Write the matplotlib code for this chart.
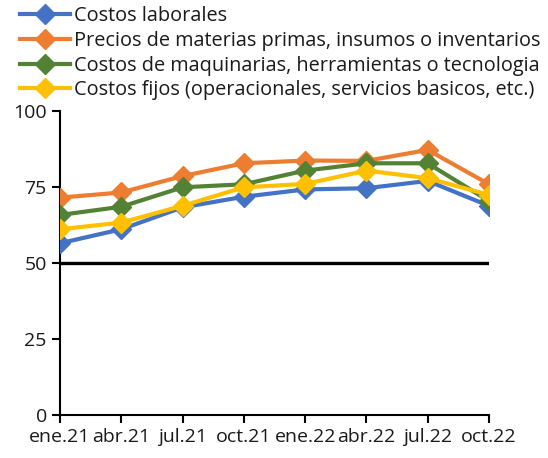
import matplotlib
matplotlib.use("Agg")
import matplotlib.pyplot as plt

plt.rcParams['font.family'] = ['Open Sans', 'DejaVu Sans']
plt.rcParams['text.color'] = '#1a1a1a'

periods = ["ene.21", "abr.21", "jul.21", "oct.21", "ene.22", "abr.22", "jul.22", "oct.22"]

costos_laborales = [56.5, 61.1, 68.3, 71.8, 74.2, 74.6, 77.0, 68.8]
precios_materias = [71.5, 73.2, 78.6, 82.8, 83.7, 83.6, 87.2, 75.9]
costos_maquinaria = [65.8, 68.5, 74.9, 75.9, 80.4, 82.8, 82.8, 70.4]
costos_fijos = [61.1, 63.3, 68.8, 74.9, 76.0, 80.4, 77.9, 72.4]
umbral = [50] * len(periods)

series = [
    ("Costos laborales", costos_laborales, "#4472C4"),
    ("Precios de materias primas, insumos o inventarios", precios_materias, "#ED7D31"),
    ("Costos de maquinarias, herramientas o tecnologia", costos_maquinaria, "#548235"),
    ("Costos fijos (operacionales, servicios basicos, etc.)", costos_fijos, "#FFC000"),
]

fig = plt.figure(figsize=(5.48, 4.58), dpi=100)
ax = fig.add_axes([60 / 548, 43 / 458, 429 / 548, 304 / 458])

x = list(range(len(periods)))
ax.plot(x, umbral, color="black", lw=2.4, zorder=1)

handles = []
for name, vals, col in series:
    h, = ax.plot(x, vals, color=col, lw=3, marker="D", markersize=10,
                 label=name, zorder=3)
    handles.append(h)

ax.set_xlim(0, 7)
ax.set_ylim(0, 100)
ax.set_yticks([0, 25, 50, 75, 100])
ax.set_xticks(x)
ax.set_xticklabels(periods)
ax.tick_params(axis="both", labelsize=14, length=6, width=1.5, color="black",
               labelcolor="#1a1a1a")
ax.tick_params(axis="x", pad=3)
for s in ["top", "right"]:
    ax.spines[s].set_visible(False)
for s in ["left", "bottom"]:
    ax.spines[s].set_linewidth(1.5)

fig.legend(handles=handles, loc="upper left", bbox_to_anchor=(20 / 548, 1 - 6 / 458),
           frameon=False, fontsize=14.3, handlelength=2.5, handletextpad=0.2,
           labelspacing=0.24, borderaxespad=0, borderpad=0.0)

fig.savefig("out.png", dpi=100)
